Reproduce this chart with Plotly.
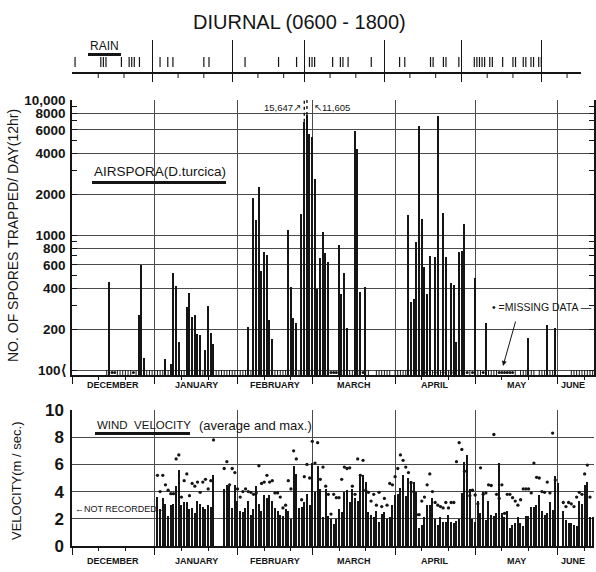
import plotly.graph_objects as go

W, H = 596, 572

# ---------------- data ----------------
# day index 0 = 1 December
month_names = ["DECEMBER", "JANUARY", "FEBRUARY", "MARCH", "APRIL", "MAY", "JUNE"]
month_lengths = [31, 31, 28, 31, 30, 31, 30]

# spores trapped per day (12 hr), values >= 100
spore_days = [14, 25, 26, 27,
              35, 37, 38, 39, 40, 43, 44, 45, 46, 47, 48, 50, 51, 52, 53,
              66, 68, 69, 70, 71, 72, 73, 74, 75, 81, 82, 83, 84, 86,
              89, 90, 91, 92, 93, 94, 95, 96, 100, 101, 102, 103, 106, 107, 108, 110,
              126, 127, 128, 129, 130, 131, 132, 133, 134, 136, 137, 139, 140, 142, 143, 144, 145, 146, 147,
              151, 155, 171, 178, 181]
spore_counts = [450, 255, 600, 122,
                120, 110, 520, 422, 162, 291, 374, 245, 255, 185, 181, 141, 300, 187, 155,
                209, 1890, 1285, 2280, 545, 750, 710, 235, 169, 1090, 409, 241, 224, 1430,
                5570, 5300, 2590, 396, 671, 1057, 731, 634, 843, 366, 526, 204, 5890, 4310, 380, 414,
                1406, 321, 336, 892, 6410, 1316, 577, 364, 703, 684, 7600, 1446, 684, 444, 426, 161, 751, 762, 1199,
                477, 224, 172, 215, 204]
# off-scale days (drawn solid up to the break, dotted above)
offscale_days = [87, 88]
offscale_counts = [15647, 11605]
offscale_labels = ["15,647", "11,605"]
offscale_break_counts = [6900, 7740]

# days with trap record (<100 spores) shown as the strip along the base
trap_first_day = 13
trap_last_day = 195
trap_gap_days = [112, 113, 120, 167, 174, 182, 183, 184, 185, 186]
missing_days = [15, 16, 23, 97, 98, 99, 109, 132, 136, 139, 142, 148, 150, 154,
                160, 161, 162, 163, 164, 165]

# rain days (top strip)
rain_days = [1, 11, 12, 13, 19, 22, 23, 24, 26, 34, 37, 39, 51, 53,
             67, 80, 87, 92, 93, 94, 101, 104, 105, 107, 116,
             127, 129, 139, 140, 144, 145, 150,
             156, 157, 158, 159, 160, 162, 163, 167, 171, 172, 175, 176, 178, 179, 181, 182]

# wind velocity (m/sec): daily average (bars) and maximum (dots)
wind_avg_jan_start = 32
wind_avg_jan = [3.6, 2.7, 3.5, 3.1, 2.2, 3.0, 3.1, 4.4, 5.6, 3.0, 3.2, 3.2, 2.7, 2.8, 2.4,
                3.3, 3.1, 2.9, 2.7, 3.0, 2.9, 5.2]
wind_max_jan = [5.2, 4.0, 5.2, 4.5, 4.1, 3.85, 3.85, 6.4, 6.7, 3.6, 4.8, 5.3, 3.7, 4.6, 4.4,
                4.7, 3.95, 4.7, 4.9, 4.2, 4.8, 7.8]
wind_avg_feb_start = 57
wind_avg_feb = [4.2, 4.5, 4.4, 2.8, 4.5, 3.3, 2.6, 2.5, 2.8, 3.3, 2.3, 2.7, 4.4, 3.1, 2.6,
                3.75, 3.5, 3.75, 3.3, 2.8, 2.6, 2.3, 2.2, 2.7, 2.6, 2.0, 5.9, 5.3]
wind_max_feb = [5.7, 6.2, 4.5, 5.7, 5.4, 4.2, 3.6, 4.0, 4.2, 4.0, 3.95, 3.8, 3.9, 5.9, 4.6,
                4.7, 5.2, 4.7, 4.8, 3.9, 3.9, 3.6, 2.8, 3.0, 4.8, 4.2, 7.0, 6.4]
wind_avg_spring_start = 85
wind_avg_spring = [2.8, 2.85, 3.2, 3.8, 3.0, 6.1, 4.0, 5.9, 4.2, 2.1,
                   4.2, 2.2, 2.0, 1.6, 2.0, 2.7, 2.5, 4.0, 4.1, 3.2,
                   4.2, 3.5, 3.3, 5.3, 5.2, 4.7, 2.5, 2.3, 2.1, 2.6,
                   1.8, 2.35, 2.5, 2.0, 2.1, 3.0, 3.75, 3.8, 4.3, 5.2,
                   3.7, 5.0, 4.8, 4.7, 4.0, 1.35, 1.55, 2.1, 3.0, 3.0,
                   3.5, 2.0, 1.55, 2.1, 1.8, 1.75, 2.3, 1.8, 1.7, 1.85,
                   2.0, 3.9, 6.2, 6.7, 4.2, 2.0, 1.8, 3.3, 2.4, 3.95,
                   1.9, 3.3, 2.3, 2.2, 2.4, 6.1, 2.4, 2.15, 2.6, 1.3,
                   1.55, 1.7, 2.15, 1.7, 1.5, 2.2, 2.2, 2.85, 2.85, 3.0,
                   3.75, 2.6, 2.3, 2.4, 3.2, 2.65, 5.15, 4.65]
wind_max_spring_start = 86
wind_max_spring = [3.4, 5.1, 6.0, 5.0, 7.7, 6.1, 7.6, 4.9, 5.8, 4.4,
                   3.8, 2.35, 3.8, 3.55, 3.55, 4.9, 5.8, 5.7, 5.75, 4.4,
                   3.8, 6.4, 5.2, 6.3, 4.1, 3.95, 3.3, 3.8, 3.0, 3.95,
                   2.9, 3.5, 3.0, 4.6, 4.5, 5.1, 5.7, 6.7, 6.3, 5.8,
                   5.4, 4.65, 4.0, 2.3, 2.3, 3.3, 3.6, 4.5, 5.3, 4.0,
                   3.2, 3.0, 2.9, 2.8, 3.2, 2.8, 3.2, 3.2, 6.2, 7.6,
                   7.1, 5.5, 4.0, 3.7, 4.1, 3.75, 3.1, 5.75, 3.8, 3.9,
                   4.5, 4.45, 8.2, 3.8, 3.5, 4.5, 2.4, 3.8, 3.8, 3.55,
                   3.3, 3.0, 3.4, 4.2, 4.2, 4.2, 3.9, 6.1, 5.05, 5.0,
                   4.0, 3.95, 4.7, 3.9, 8.3, 4.85]
wind_avg_june_start = 184
wind_avg_june = [2.6, 1.9, 1.7, 1.7, 1.55, 1.5, 3.3, 3.1, 4.5, 4.7, 2.15, 2.15]
wind_max_june = [3.2, 2.9, 3.2, 3.1, 2.9, 3.6, 3.95, 3.8, 5.3, 5.95, 3.6]

spore_ticks = [100, 200, 400, 600, 800, 1000, 2000, 4000, 6000, 8000, 10000]
spore_tick_text = ["100⟨", "200", "400", "600", "800", "1000", "2000", "4000", "6000", "8000", "10,000"]
spore_minor_ticks = [300, 500, 700, 900, 3000, 5000, 7000, 9000]
wind_ticks = [0, 2, 4, 6, 8, 10]

# ---------------- helpers ----------------
def px(x):
    return x / W


def py(y):
    return 1 - y / H


month_starts = [0]
for L in month_lengths[:-1]:
    month_starts.append(month_starts[-1] + L)

X_END = 195.5
RAIN_END = 197.3
YMIN = 1.963
strip_low = 10 ** YMIN

minor_days = [s + k for s in month_starts for k in (10, 20) if s + k < X_END]
month_mid = [s + L / 2 for s, L in zip(month_starts, month_lengths)]
month_mid[-1] = (month_starts[-1] + X_END) / 2 - 1

INK = "#151515"
GRID = "#4a4a4a"
FONT = "Liberation Sans, Arial, sans-serif"
LABEL = "Liberation Sans, Arial, sans-serif"

fig = go.Figure()

# ---- spore panel ----
fig.add_trace(go.Bar(x=spore_days, y=spore_counts, width=0.55,
                     marker=dict(color=INK, line=dict(width=0)),
                     xaxis="x", yaxis="y", showlegend=False, hoverinfo="x+y"))
fig.add_trace(go.Bar(x=offscale_days, y=offscale_break_counts, width=0.55,
                     marker=dict(color=INK, line=dict(width=0)),
                     xaxis="x", yaxis="y", showlegend=False, hoverinfo="skip"))
dx, dy = [], []
for d, b, c in zip(offscale_days, offscale_break_counts, offscale_counts):
    dx += [d, d, None]
    dy += [b, c, None]
fig.add_trace(go.Scatter(x=dx, y=dy, mode="lines", line=dict(color=INK, width=1.4, dash="dot"),
                         xaxis="x", yaxis="y", showlegend=False, hoverinfo="skip"))

trap_days = [d for d in range(trap_first_day, trap_last_day + 1)
             if d not in trap_gap_days and d not in missing_days]
sx, sy = [], []
for d in trap_days:
    sx += [d, d, None]
    sy += [strip_low, 100, None]
fig.add_trace(go.Scatter(x=sx, y=sy, mode="lines", line=dict(color=INK, width=1),
                         xaxis="x", yaxis="y", showlegend=False, hoverinfo="skip"))
fig.add_trace(go.Scatter(x=missing_days, y=[10 ** ((YMIN + 2) / 2)] * len(missing_days),
                         mode="markers", marker=dict(color=INK, size=3),
                         xaxis="x", yaxis="y", showlegend=False, hoverinfo="skip"))

# ---- wind panel ----
for start, avg in [(wind_avg_jan_start, wind_avg_jan), (wind_avg_feb_start, wind_avg_feb),
                   (wind_avg_spring_start, wind_avg_spring), (wind_avg_june_start, wind_avg_june)]:
    fig.add_trace(go.Bar(x=[start + i for i in range(len(avg))], y=avg, width=0.45,
                         marker=dict(color=INK, line=dict(width=0)),
                         xaxis="x2", yaxis="y2", showlegend=False))
for start, mx in [(wind_avg_jan_start, wind_max_jan), (wind_avg_feb_start, wind_max_feb),
                  (wind_max_spring_start, wind_max_spring), (wind_avg_june_start, wind_max_june)]:
    fig.add_trace(go.Scatter(x=[start + i for i in range(len(mx))], y=mx, mode="markers",
                             marker=dict(color=INK, size=3.3),
                             xaxis="x2", yaxis="y2", showlegend=False))

# ---- rain strip ----
rx, ry = [], []
for d in rain_days:
    rx += [d, d, None]
    ry += [6, 16, None]
fig.add_trace(go.Scatter(x=rx, y=ry, mode="lines", line=dict(color=INK, width=1.2),
                         xaxis="x3", yaxis="y3", showlegend=False, hoverinfo="skip"))
mx_, my_ = [], []
for d in minor_days:
    mx_ += [d, d, None]
    my_ += [-5, 0, None]
fig.add_trace(go.Scatter(x=mx_, y=my_, mode="lines", line=dict(color=INK, width=1),
                         xaxis="x3", yaxis="y3", showlegend=False, hoverinfo="skip"))

# ---------------- layout ----------------
xcommon = dict(range=[0, X_END], tickmode="array", tickvals=month_starts,
               ticktext=[""] * len(month_starts), showgrid=True, gridcolor=GRID, gridwidth=1,
               ticks="outside", ticklen=7, tickcolor=INK, tickwidth=1.2,
               showline=True, linecolor=INK, linewidth=1.5, zeroline=False,
               minor=dict(tickmode="array", tickvals=minor_days, ticks="outside",
                          ticklen=3, tickcolor=INK, showgrid=False))

fig.update_layout(
    width=W, height=H, margin=dict(l=0, r=0, t=0, b=0, autoexpand=False),
    paper_bgcolor="white", plot_bgcolor="white", barmode="overlay", bargap=0,
    showlegend=False,
    xaxis=dict(domain=[px(72), px(594)], anchor="y", **xcommon),
    yaxis=dict(domain=[py(375), py(100)], anchor="x", type="log", range=[YMIN, 4],
               tickmode="array", tickvals=spore_ticks, ticktext=spore_tick_text,
               tickfont=dict(family=FONT, size=13.5, color=INK, weight="bold"),
               showgrid=True, gridcolor=GRID, gridwidth=1, zeroline=False,
               ticks="inside", ticklen=5, tickcolor=INK,
               showline=True, linecolor=INK, linewidth=1.5, mirror="ticks",
               ticklabelstandoff=2,
               minor=dict(tickmode="array", tickvals=spore_minor_ticks, ticks="inside",
                          ticklen=5, tickcolor=INK, showgrid=False)),
    xaxis2=dict(domain=[px(72), px(594)], anchor="y2", **xcommon),
    yaxis2=dict(domain=[py(546), py(410)], anchor="x2", range=[0, 10],
                tickmode="array", tickvals=wind_ticks,
                tickfont=dict(family=FONT, size=17, color=INK, weight="bold"),
                showgrid=True, gridcolor=GRID, gridwidth=1, zeroline=False,
                ticks="", showline=True, linecolor=INK, linewidth=1.5,
                ticklabelstandoff=3),
    xaxis3=dict(domain=[px(71.7), px(580.7)], anchor="y3", range=[-0.3, RAIN_END],
                tickmode="array", tickvals=month_starts + [RAIN_END - 0.3],
                showticklabels=False, showgrid=True, gridcolor=INK, gridwidth=1.2,
                ticks="", showline=False, zeroline=False),
    yaxis3=dict(domain=[py(82), py(40)], anchor="x3", range=[-9, 33],
                showticklabels=False, showgrid=False, ticks="", showline=False,
                zeroline=True, zerolinecolor=INK, zerolinewidth=1.5),
)


def label(text, x, y, size, xanchor="center", xref="paper", angle=0, family=LABEL, weight="normal"):
    return dict(text=text, x=x, y=py(y), xref=xref, yref="paper", xanchor=xanchor,
                yanchor="middle", textangle=angle, showarrow=False,
                font=dict(family=family, size=size, color=INK, weight=weight))


ann = []
ann.append(label("DIURNAL (0600 - 1800)", px(299), 22, 20))
ann.append(label("RAIN", px(104), 46, 12))
for name, m in zip(month_names, month_mid):
    for yy, xr in [(385, "x"), (561, "x2")]:
        ann.append(label(name, m, yy, 9, xref=xr, weight="bold"))
ann.append(label("NO. OF SPORES TRAPPED/ DAY(12hr)", px(13), 236, 14, angle=-90))
ann.append(label("VELOCITY(m / sec.)", px(16), 481, 13, angle=-90))
ann.append(label("AIRSPORA(D.turcica)", px(92), 172, 13.5, xanchor="left"))
ann.append(label("WIND  VELOCITY", px(95), 425, 11.5, xanchor="left"))
ann.append(label("(average and max.)", px(197), 425, 13, xanchor="left"))
ann.append(label("←NOT RECORDED→", px(73), 509, 9, xanchor="left"))
ann.append(label(offscale_labels[0] + "↗", offscale_days[0] - 0.6, 107, 9.5, xanchor="right", xref="x"))
ann.append(label("↖" + offscale_labels[1], offscale_days[1] + 1.8, 107, 9.5, xanchor="left", xref="x"))
ann.append(label("• =MISSING DATA —", px(594), 307, 10.5, xanchor="right"))
ann.append(dict(text="", x=px(503), y=py(366), xref="paper", yref="paper", showarrow=True,
                ax=13, ay=-46, arrowhead=2, arrowsize=1, arrowwidth=1, arrowcolor=INK))
fig.update_layout(annotations=ann)

shapes = [
    dict(type="rect", xref="paper", yref="paper", x0=px(88), x1=px(121), y0=py(56), y1=py(53),
         fillcolor=INK, line=dict(width=0)),
    dict(type="rect", xref="paper", yref="paper", x0=px(92), x1=px(226), y0=py(184), y1=py(181),
         fillcolor=INK, line=dict(width=0)),
    dict(type="rect", xref="paper", yref="paper", x0=px(95), x1=px(190), y0=py(435), y1=py(432),
         fillcolor=INK, line=dict(width=0)),
]
fig.update_layout(shapes=shapes)

fig.write_html("out.html", config={"displayModeBar": False},
               post_script="document.body.style.margin='0';document.body.style.overflow='hidden';")
